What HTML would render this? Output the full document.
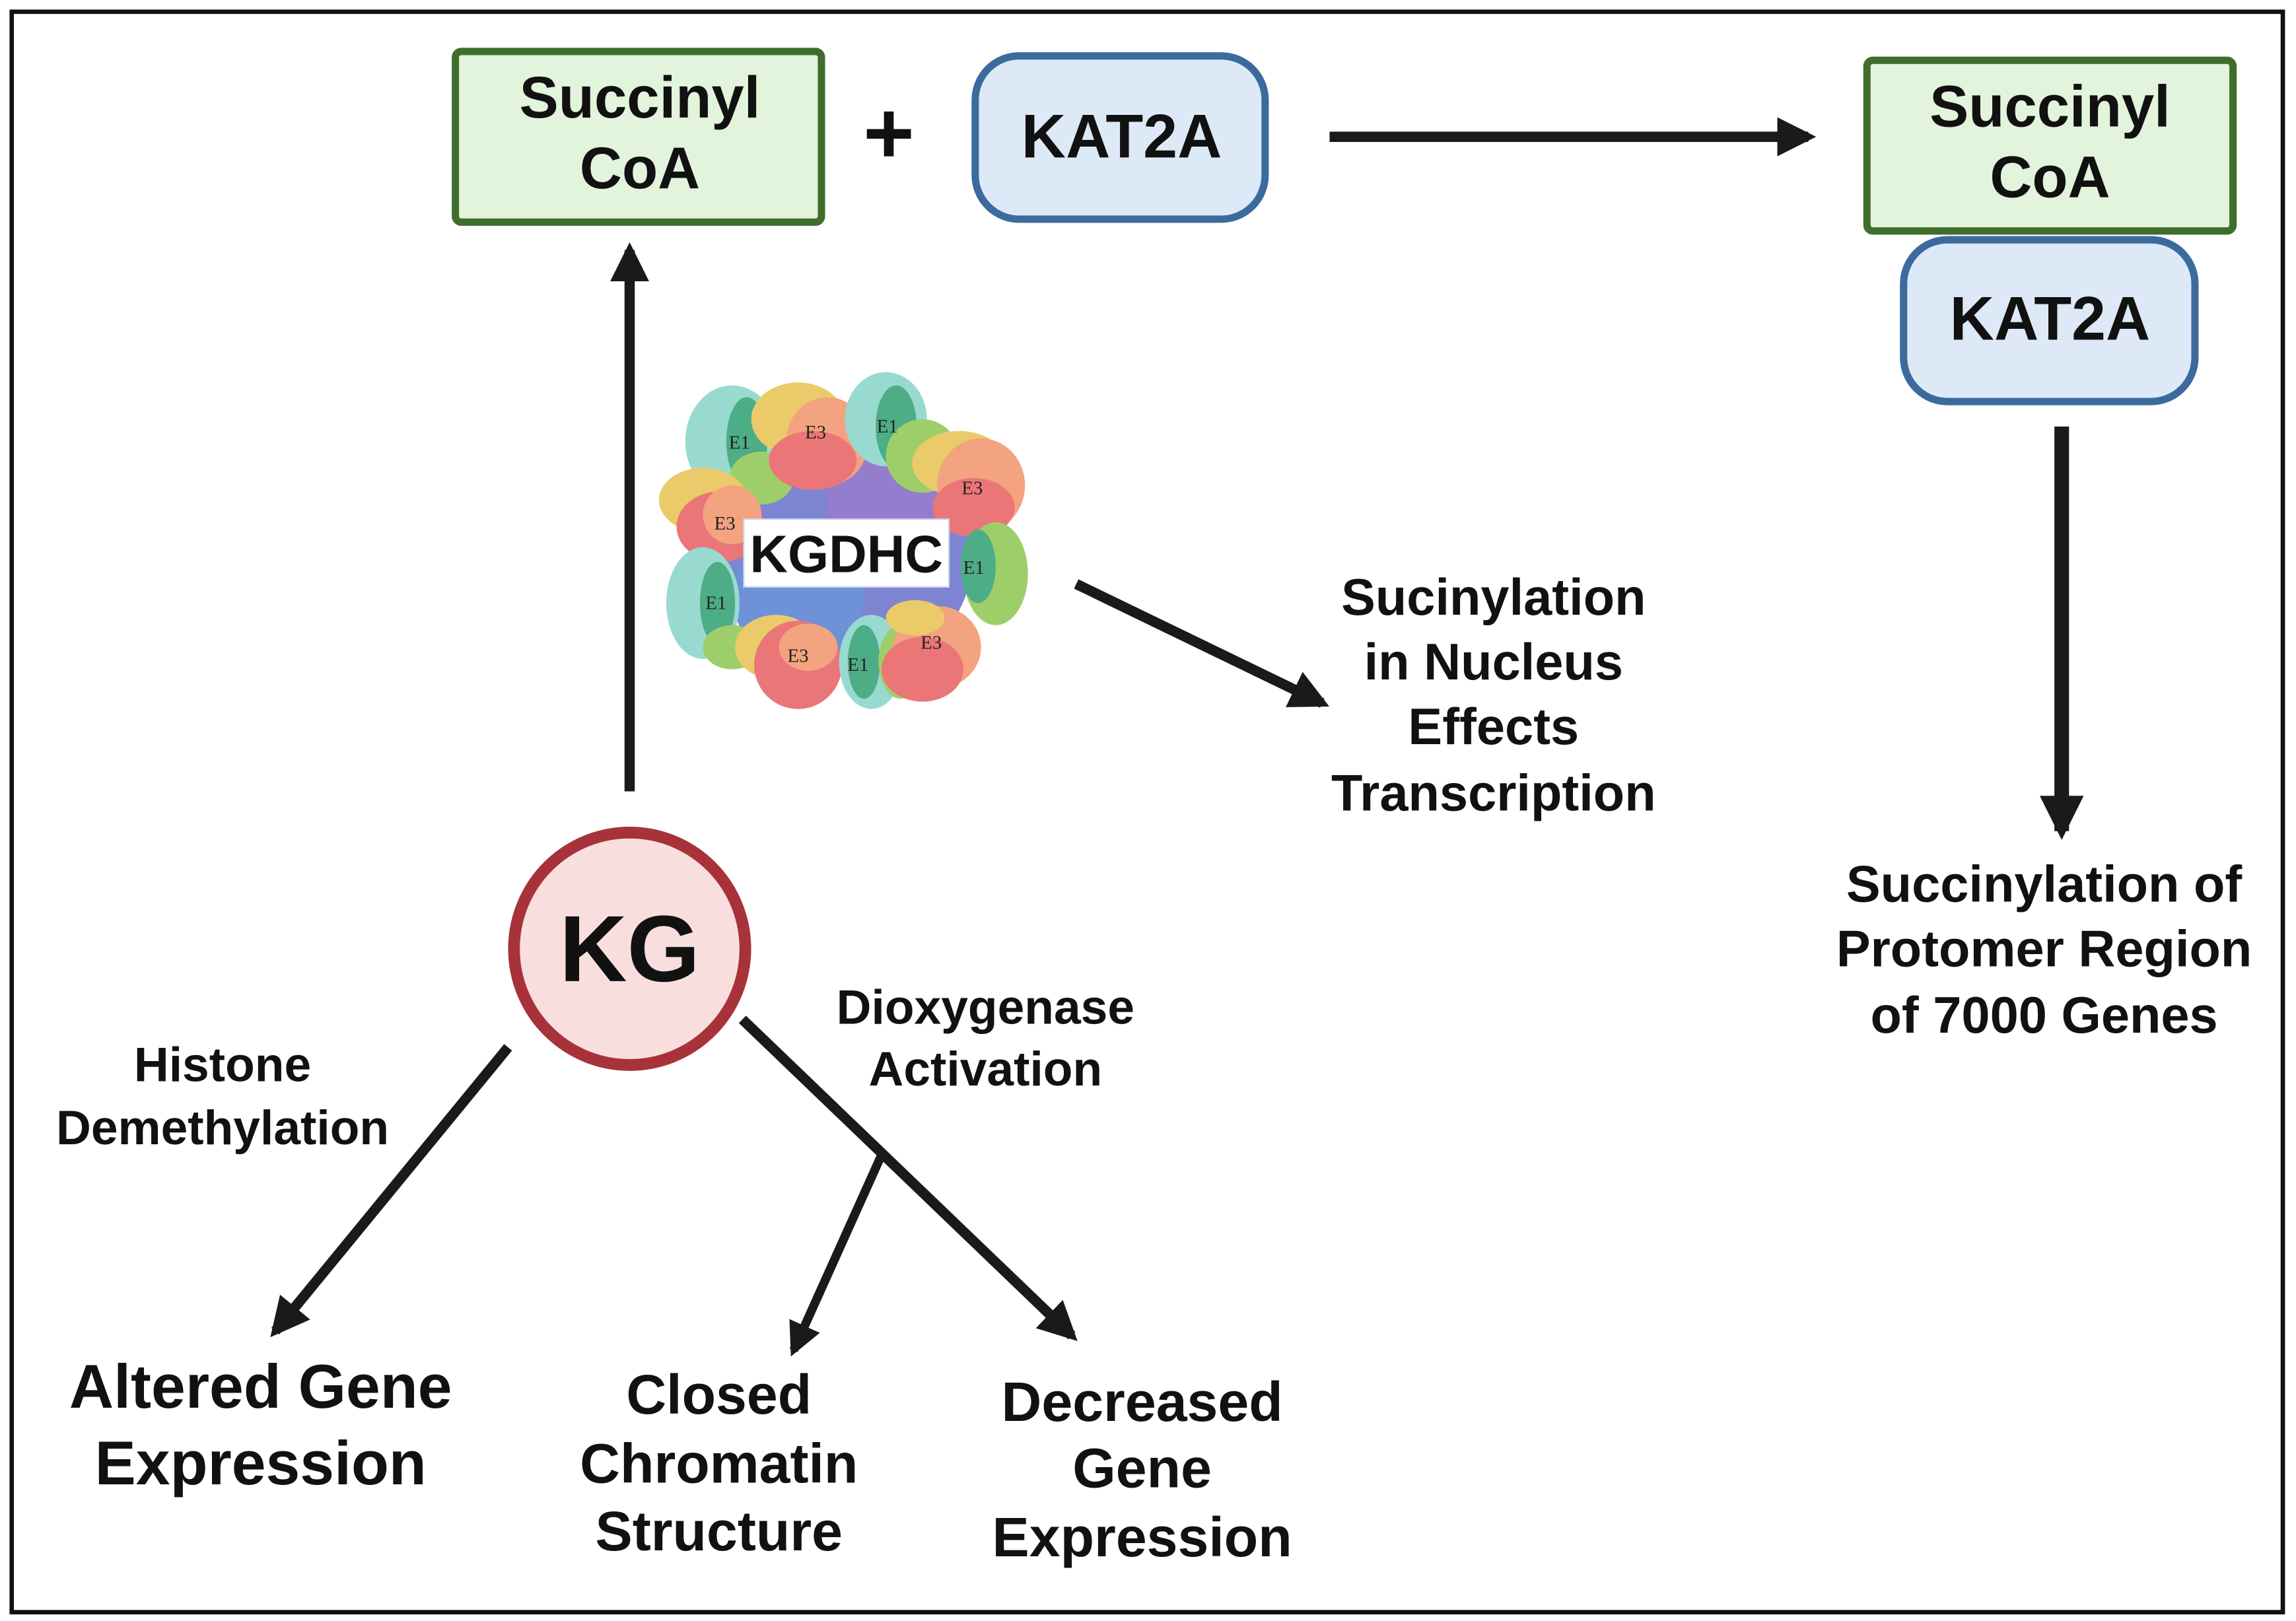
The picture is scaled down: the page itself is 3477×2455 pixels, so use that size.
<!DOCTYPE html>
<html><head><meta charset="utf-8"><style>
html,body{margin:0;padding:0;background:#fff}
svg{display:block}
text{font-family:"Liberation Sans",sans-serif;font-weight:bold;fill:#111;text-anchor:middle}
.e{font-family:"Liberation Serif",serif;font-weight:normal;font-size:13px;fill:#222}
</style></head><body>
<svg width="3477" height="2455" viewBox="0 0 1568 1102" preserveAspectRatio="none" xmlns="http://www.w3.org/2000/svg">
<defs>
<marker id="a" viewBox="0 0 10 10" refX="8" refY="5" markerWidth="3.8" markerHeight="3.8" orient="auto-start-reverse" markerUnits="strokeWidth"><path d="M0,0 L10,5 L0,10 Z" fill="#1a1a1a"/></marker>
<marker id="b" viewBox="0 0 10 10" refX="8" refY="5" markerWidth="3" markerHeight="3" orient="auto-start-reverse" markerUnits="strokeWidth"><path d="M0,0 L10,5 L0,10 Z" fill="#1a1a1a"/></marker>
</defs>
<rect x="8" y="8" width="1551" height="1088" fill="#fff" stroke="#111" stroke-width="3"/>

<rect x="311" y="35" width="250" height="116" rx="4" fill="#e2f4dc" stroke="#3f6e2c" stroke-width="5"/>
<text x="437" y="80" font-size="40">Succinyl</text>
<text x="437" y="128" font-size="40">CoA</text>
<text x="607" y="111" font-size="60">+</text>
<rect x="666" y="38" width="198" height="111" rx="30" fill="#dde9f7" stroke="#3b6b9c" stroke-width="5"/>
<text x="766" y="107" font-size="42">KAT2A</text>
<line x1="908" y1="93" x2="1235" y2="93" stroke="#1a1a1a" stroke-width="7" marker-end="url(#a)"/>

<rect x="1275" y="41" width="250" height="116" rx="4" fill="#e2f4dc" stroke="#3f6e2c" stroke-width="5"/>
<text x="1400" y="86" font-size="40">Succinyl</text>
<text x="1400" y="134" font-size="40">CoA</text>
<rect x="1300" y="163" width="199" height="110" rx="30" fill="#dde9f7" stroke="#3b6b9c" stroke-width="5"/>
<text x="1400" y="231" font-size="42">KAT2A</text>
<line x1="1408" y1="290" x2="1408" y2="565" stroke="#1a1a1a" stroke-width="10" marker-end="url(#b)"/>
<text x="1396" y="613" font-size="35">Succinylation of</text>
<text x="1396" y="657" font-size="35">Protomer Region</text>
<text x="1396" y="702" font-size="35">of 7000 Genes</text>

<line x1="430" y1="538" x2="430" y2="170" stroke="#1a1a1a" stroke-width="7" marker-end="url(#a)"/>

<g opacity="0.9">
<circle cx="580" cy="375" r="85" fill="#6f78cf"/>
<circle cx="610" cy="340" r="45" fill="#8a6fc9"/>
<circle cx="545" cy="405" r="45" fill="#5f86d4"/>
<ellipse cx="500" cy="300" rx="32" ry="38" fill="#8fd6cc"/><ellipse cx="510" cy="300" rx="14" ry="30" fill="#3aa57a"/><ellipse cx="520" cy="325" rx="22" ry="18" fill="#94c95a"/>
<ellipse cx="545" cy="285" rx="32" ry="25" fill="#e9c55a"/><ellipse cx="565" cy="300" rx="28" ry="30" fill="#f29a72"/><ellipse cx="555" cy="313" rx="30" ry="20" fill="#e9686a"/>
<ellipse cx="605" cy="285" rx="28" ry="32" fill="#8fd6cc"/><ellipse cx="612" cy="290" rx="14" ry="28" fill="#3aa57a"/><ellipse cx="630" cy="310" rx="25" ry="25" fill="#94c95a"/>
<ellipse cx="655" cy="315" rx="32" ry="22" fill="#e9c55a"/><ellipse cx="670" cy="330" rx="30" ry="32" fill="#f29a72"/><ellipse cx="665" cy="345" rx="28" ry="20" fill="#e9686a"/>
<ellipse cx="480" cy="340" rx="30" ry="22" fill="#e9c55a"/><ellipse cx="492" cy="358" rx="30" ry="24" fill="#e9686a"/><ellipse cx="500" cy="350" rx="20" ry="20" fill="#f29a72"/>
<ellipse cx="680" cy="390" rx="22" ry="35" fill="#94c95a"/><ellipse cx="668" cy="385" rx="12" ry="25" fill="#3aa57a"/>
<ellipse cx="480" cy="410" rx="25" ry="38" fill="#8fd6cc"/><ellipse cx="490" cy="410" rx="12" ry="28" fill="#3aa57a"/><ellipse cx="500" cy="440" rx="20" ry="15" fill="#94c95a"/>
<ellipse cx="530" cy="440" rx="28" ry="22" fill="#e9c55a"/><ellipse cx="545" cy="452" rx="30" ry="30" fill="#e9686a"/><ellipse cx="552" cy="440" rx="20" ry="16" fill="#f29a72"/>
<ellipse cx="595" cy="450" rx="22" ry="32" fill="#8fd6cc"/><ellipse cx="590" cy="450" rx="11" ry="25" fill="#3aa57a"/><ellipse cx="615" cy="450" rx="15" ry="25" fill="#94c95a"/>
<ellipse cx="640" cy="440" rx="30" ry="28" fill="#f29a72"/><ellipse cx="630" cy="455" rx="28" ry="22" fill="#e9686a"/><ellipse cx="625" cy="420" rx="20" ry="12" fill="#e9c55a"/>
</g>
<text class="e" x="505" y="305">E1</text><text class="e" x="557" y="298">E3</text><text class="e" x="606" y="294">E1</text>
<text class="e" x="664" y="336">E3</text><text class="e" x="495" y="360">E3</text><text class="e" x="665" y="390">E1</text>
<text class="e" x="489" y="414">E1</text><text class="e" x="545" y="450">E3</text><text class="e" x="586" y="456">E1</text><text class="e" x="636" y="441">E3</text>
<rect x="508" y="353" width="140" height="46" fill="#fff" stroke="#cfd8ea" stroke-width="1"/>
<text x="578" y="389" font-size="36">KGDHC</text>

<line x1="735" y1="397" x2="903" y2="478" stroke="#1a1a1a" stroke-width="7" marker-end="url(#a)"/>
<text x="1020" y="418" font-size="35">Sucinylation</text>
<text x="1020" y="462" font-size="35">in Nucleus</text>
<text x="1020" y="506" font-size="35">Effects</text>
<text x="1020" y="551" font-size="35">Transcription</text>

<circle cx="430" cy="645" r="79" fill="#f9dede" stroke="#a8323a" stroke-width="8"/>
<text x="430" y="667" font-size="64">KG</text>

<text x="152" y="735" font-size="33">Histone</text>
<text x="152" y="778" font-size="33">Demethylation</text>
<line x1="347" y1="712" x2="188" y2="905" stroke="#1a1a1a" stroke-width="7" marker-end="url(#a)"/>

<text x="673" y="696" font-size="33">Dioxygenase</text>
<text x="673" y="738" font-size="33">Activation</text>
<line x1="507" y1="693" x2="732" y2="908" stroke="#1a1a1a" stroke-width="7" marker-end="url(#a)"/>
<line x1="603" y1="783" x2="542" y2="918" stroke="#1a1a1a" stroke-width="6" marker-end="url(#a)"/>

<text x="178" y="957" font-size="42">Altered Gene</text>
<text x="178" y="1009" font-size="42">Expression</text>
<text x="491" y="961" font-size="38">Closed</text>
<text x="491" y="1008" font-size="38">Chromatin</text>
<text x="491" y="1054" font-size="38">Structure</text>
<text x="780" y="966" font-size="38">Decreased</text>
<text x="780" y="1011" font-size="38">Gene</text>
<text x="780" y="1058" font-size="38">Expression</text>
</svg>
</body></html>
